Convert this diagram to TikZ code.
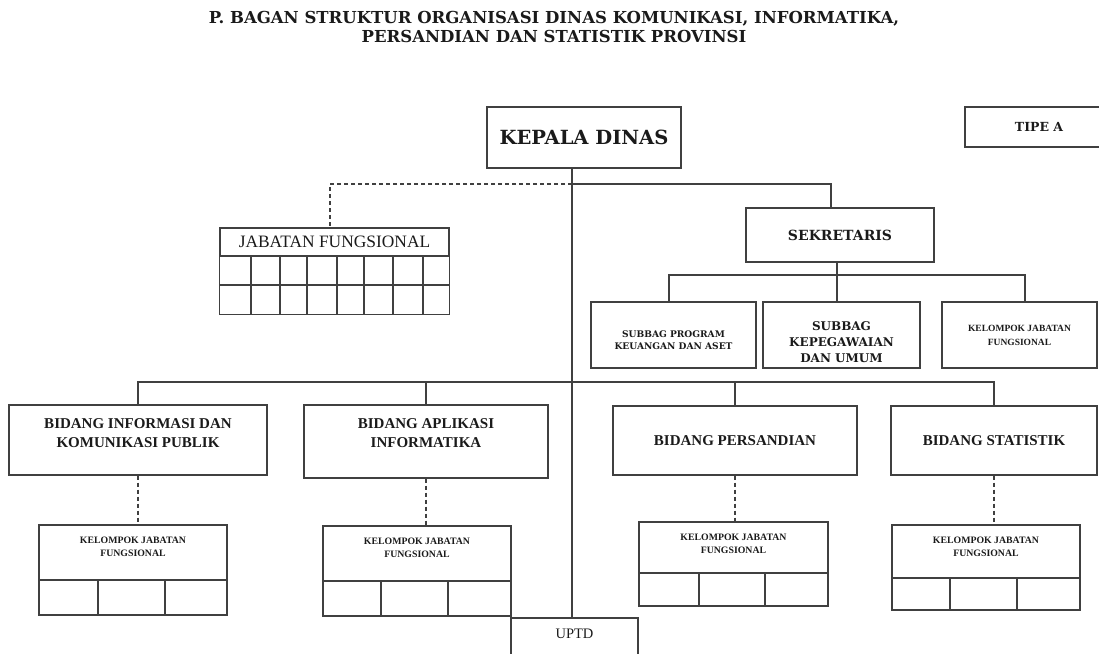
\documentclass[tikz,border=0pt]{standalone}
\usepackage{fontspec}
\setmainfont{Liberation Serif}
\newfontfamily\slabfont{DejaVu Serif}
\usetikzlibrary{positioning}

\definecolor{boxLine}{HTML}{404040}
\definecolor{inkText}{HTML}{1A1A1A}

\begin{document}
\begin{tikzpicture}[x=1pt, y=-1pt]

    %
    % Styles for units, and unit links
    %
    \tikzstyle{unit} = [draw=boxLine, line width=1.25pt, rectangle, align=center, inner sep=2pt,
                        text=inkText]
    \tikzstyle{bidang} = [unit, font={\bfseries\fontsize{15}{19}\selectfont}]
    \tikzstyle{bidangTop} = [anchor=north, yshift=-11pt, align=center, text=inkText,
                             font={\bfseries\fontsize{15}{19}\selectfont}]
    \tikzstyle{subText} = [align=center, text=inkText]
    \tikzstyle{kelompok} = [unit, minimum width=188pt];
    \tikzstyle{kelompokTop} = [anchor=north, yshift=-9pt, align=center, text=inkText,
                               font={\bfseries\fontsize{9.8}{13}\selectfont}];
    \tikzstyle{uptdTop} = [anchor=north, yshift=-8.5pt, text=inkText, font={\fontsize{14.5}{16}\selectfont}];
    \tikzstyle{link} = [boxLine, line width=1.25pt];
    \tikzstyle{dutyLink} = [link, dash pattern=on 4pt off 3pt];

    \useasboundingbox (0,0) rectangle (1099,653);

    %
    % Title
    %
    \node[name=judul, align=center, text=inkText, font={\slabfont\bfseries\fontsize{16.5}{18.5}\selectfont}]
      at (554,27) {P. BAGAN STRUKTUR ORGANISASI DINAS KOMUNIKASI, INFORMATIKA,\\
                   PERSANDIAN DAN STATISTIK PROVINSI};

    %
    % Position units
    %
    \node[unit, name=kadis, minimum width=194pt, minimum height=61pt,
          font={\slabfont\bfseries\fontsize{19.5}{22}\selectfont}] at (584,137.5) {KEPALA DINAS};
    \node[unit, name=tipe, minimum width=148pt, minimum height=40pt,
          font={\slabfont\bfseries\fontsize{12.5}{14}\selectfont}] at (1039,127) {TIPE A};
    \node[unit, name=jabfung, minimum width=229pt, minimum height=28pt,
          font={\fontsize{17.4}{19}\selectfont}] at (334.5,242) {JABATAN FUNGSIONAL};
    \node[unit, name=sekr, minimum width=188pt, minimum height=54pt,
          font={\slabfont\bfseries\fontsize{14}{16}\selectfont}] at (840,235) {SEKRETARIS};

    \node[unit, name=subprog, minimum width=165pt, minimum height=66pt,
          label={[subText, yshift=-5pt, font={\slabfont\bfseries\fontsize{9.1}{12}\selectfont}]center:SUBBAG PROGRAM\\KEUANGAN DAN ASET}]
          at (673.5,335) {};
    \node[unit, name=subpeg, minimum width=157pt, minimum height=66pt,
          label={[subText, yshift=-7pt, font={\slabfont\bfseries\fontsize{12}{16}\selectfont}]center:SUBBAG\\KEPEGAWAIAN\\DAN UMUM}]
          at (841.5,335) {};
    \node[unit, name=kelsek, minimum width=155pt, minimum height=66pt,
          font={\bfseries\fontsize{9.5}{14}\selectfont}] at (1019.5,335)
          {KELOMPOK JABATAN\\FUNGSIONAL};

    \node[bidang, name=infokom, minimum width=258pt, minimum height=70pt,
          label={[bidangTop]north:BIDANG INFORMASI DAN\\KOMUNIKASI PUBLIK}] at (138,440) {};
    \node[bidang, name=aplikasi, minimum width=244pt, minimum height=73pt,
          label={[bidangTop]north:BIDANG APLIKASI\\INFORMATIKA}] at (426,441.5) {};
    \node[bidang, name=sandi, minimum width=244pt, minimum height=69pt] at (735,440.5) {BIDANG PERSANDIAN};
    \node[bidang, name=statistik, minimum width=206pt, minimum height=69pt] at (994,440.5) {BIDANG STATISTIK};

    \node[kelompok, name=kelinfo, minimum height=55pt,
          label={[kelompokTop]north:KELOMPOK JABATAN\\FUNGSIONAL}] at (133,552.5) {};
    \node[kelompok, name=kelapl, minimum height=55pt,
          label={[kelompokTop]north:KELOMPOK JABATAN\\FUNGSIONAL}] at (417,553.5) {};
    \node[kelompok, name=kelsandi, minimum width=189pt, minimum height=51pt,
          label={[kelompokTop]north:KELOMPOK JABATAN\\FUNGSIONAL}] at (733.5,547.5) {};
    \node[kelompok, name=kelstat, minimum height=53pt,
          label={[kelompokTop]north:KELOMPOK JABATAN\\FUNGSIONAL}] at (986,551.5) {};

    \node[unit, name=uptd, minimum width=127pt, minimum height=45pt,
          label={[uptdTop]north:UPTD}] at (574.5,640.5) {};

    %
    % Empty cells under the functional groups
    %
    \draw[link] (jabfung.south west) rectangle ([yshift=-58pt]jabfung.south east)
                (220,285) -- (449,285);
    \foreach \cx in {251,280,307,337,364,393,423}
      \draw[link] (\cx,256) -- (\cx,314);

    \foreach \lx/\rx/\ty/\by/\ca/\cb in {39/227/580/615/98/165, 323/511/581/616/381/448,
                                         639/828/573/606/699/765, 892/1080/578/610/950/1017}
      \draw[link] (\lx,\ty) rectangle (\rx,\by) (\ca,\ty) -- (\ca,\by) (\cb,\ty) -- (\cb,\by);

    %
    % Connect units via links
    %
    \coordinate (spine) at (572,184);
    \coordinate (subBar) at (837,275);
    \coordinate (bidBar) at (572,382);

    \draw[link] (kadis.south -| spine) -- (uptd.north -| spine);
    \draw[link] (spine) -| ([xshift=-9pt]sekr.north);
    \draw[dutyLink] (spine) -| ([xshift=-4.5pt]jabfung.north);

    \draw[link] ([xshift=-3pt]sekr.south) -- (subBar);
    \draw[link] ([xshift=-4.5pt]subprog.north) |- (subBar) -| ([xshift=5.5pt]kelsek.north);
    \draw[link] ([xshift=-4.5pt]subpeg.north) -- (subBar);

    \draw[link] (infokom.north) |- (bidBar) -| (statistik.north);
    \draw[link] (aplikasi.north) -- (aplikasi.north |- bidBar);
    \draw[link] (sandi.north) -- (sandi.north |- bidBar);

    \draw[dutyLink] (infokom.south) -- (infokom.south |- kelinfo.north);
    \draw[dutyLink] (aplikasi.south) -- (aplikasi.south |- kelapl.north);
    \draw[dutyLink] (sandi.south) -- (sandi.south |- kelsandi.north);
    \draw[dutyLink] (statistik.south) -- (statistik.south |- kelstat.north);
  \end{tikzpicture}
\end{document}
